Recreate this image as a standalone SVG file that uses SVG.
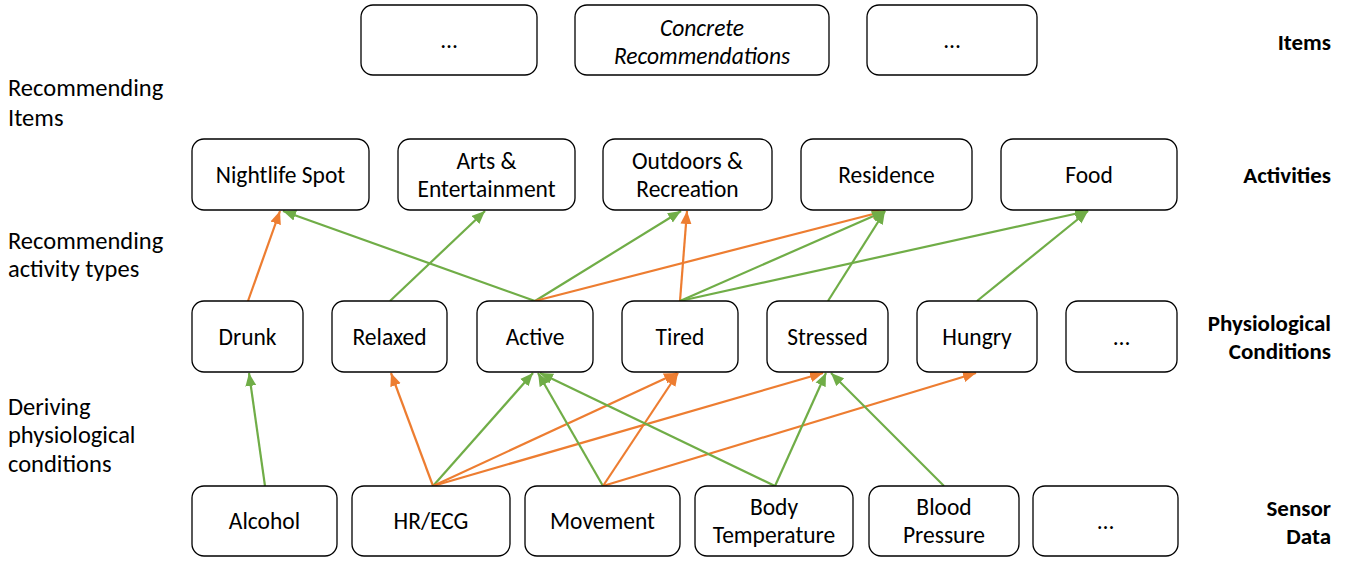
<svg xmlns="http://www.w3.org/2000/svg" width="1349" height="561" viewBox="0 0 1349 561">
<style>
.box{fill:#fff;stroke:#000;stroke-width:1.3}
.t{font-family:Carlito,Lato,"Open Sans",sans-serif;font-size:23.5px;fill:#000;text-anchor:middle}
.it{font-style:italic}
.lab{font-family:Carlito,Lato,"Open Sans",sans-serif;font-size:24.5px;fill:#000}
.rl{font-family:Carlito,Lato,"Open Sans",sans-serif;font-size:23px;font-weight:bold;fill:#000;text-anchor:end}
.g{stroke:#70AD47;stroke-width:2.2;fill:none;marker-end:url(#ag)}
.o{stroke:#ED7D31;stroke-width:2.2;fill:none;marker-end:url(#ao)}
</style>
<defs>
<marker id="ag" markerUnits="userSpaceOnUse" markerWidth="14" markerHeight="12" refX="13" refY="5.5" orient="auto" viewBox="0 0 14 11"><path d="M0,0 L13,5.5 L0,11 z" fill="#70AD47"/></marker>
<marker id="ao" markerUnits="userSpaceOnUse" markerWidth="14" markerHeight="12" refX="13" refY="5.5" orient="auto" viewBox="0 0 14 11"><path d="M0,0 L13,5.5 L0,11 z" fill="#ED7D31"/></marker>
</defs>
<rect width="1349" height="561" fill="#fff"/>

<g id="side-labels">
<text class="lab" x="8" y="96">Recommending</text>
<text class="lab" x="8" y="126">Items</text>
<text class="lab" x="8" y="249">Recommending</text>
<text class="lab" x="8" y="277">activity types</text>
<text class="lab" x="8" y="415">Deriving</text>
<text class="lab" x="8" y="443">physiological</text>
<text class="lab" x="8" y="472">conditions</text>
<text class="rl" x="1331" y="50">Items</text>
<text class="rl" x="1331" y="183">Activities</text>
<text class="rl" x="1331" y="331">Physiological</text>
<text class="rl" x="1331" y="359">Conditions</text>
<text class="rl" x="1331" y="516">Sensor</text>
<text class="rl" x="1331" y="544">Data</text>
</g>

<g id="connectors">
<path class="o" d="M248,301 L280,211"/>
<path class="g" d="M535,301 L283,211"/>
<path class="g" d="M390,301 L485,211"/>
<path class="g" d="M535,301 L681,211"/>
<path class="o" d="M535,301 L885,211"/>
<path class="o" d="M680,301 L687,211"/>
<path class="g" d="M680,301 L885,211"/>
<path class="g" d="M680,301 L1088,211"/>
<path class="g" d="M828,301 L885,211"/>
<path class="g" d="M977,301 L1088,211"/>
<path class="g" d="M265,486 L249,373"/>
<path class="o" d="M433,486 L391,373"/>
<path class="g" d="M433,486 L533,373"/>
<path class="o" d="M433,486 L677,373"/>
<path class="o" d="M433,486 L823,373"/>
<path class="g" d="M603,486 L538,373"/>
<path class="o" d="M603,486 L678,373"/>
<path class="o" d="M603,486 L976,373"/>
<path class="g" d="M775,486 L540,373"/>
<path class="g" d="M775,486 L826,373"/>
<path class="g" d="M944,486 L831,373"/>
</g>

<g id="item1"><rect class="box" x="361" y="5" width="176" height="70" rx="12"/><text class="t" x="449" y="48">…</text></g>
<g id="item2"><rect class="box" x="575" y="5" width="254" height="70" rx="12"/><text class="t it" x="702" y="36">Concrete</text><text class="t it" x="702" y="64">Recommendations</text></g>
<g id="item3"><rect class="box" x="867" y="5" width="170" height="70" rx="12"/><text class="t" x="952" y="48">…</text></g>

<g id="nightlife"><rect class="box" x="192" y="139" width="177" height="71" rx="12"/><text class="t" x="280.5" y="183">Nightlife Spot</text></g>
<g id="arts"><rect class="box" x="398" y="139" width="177" height="71" rx="12"/><text class="t" x="486.5" y="169">Arts &amp;</text><text class="t" x="486.5" y="197">Entertainment</text></g>
<g id="outdoors"><rect class="box" x="603" y="139" width="169" height="71" rx="12"/><text class="t" x="687.5" y="169">Outdoors &amp;</text><text class="t" x="687.5" y="197">Recreation</text></g>
<g id="residence"><rect class="box" x="801" y="139" width="171" height="71" rx="12"/><text class="t" x="886.5" y="183">Residence</text></g>
<g id="food"><rect class="box" x="1001" y="139" width="176" height="71" rx="12"/><text class="t" x="1089" y="183">Food</text></g>

<g id="drunk"><rect class="box" x="192" y="301" width="111" height="71" rx="12"/><text class="t" x="247.5" y="345">Drunk</text></g>
<g id="relaxed"><rect class="box" x="332" y="301" width="115" height="71" rx="12"/><text class="t" x="389.5" y="345">Relaxed</text></g>
<g id="active"><rect class="box" x="477" y="301" width="116" height="71" rx="12"/><text class="t" x="535" y="345">Active</text></g>
<g id="tired"><rect class="box" x="622" y="301" width="116" height="71" rx="12"/><text class="t" x="680" y="345">Tired</text></g>
<g id="stressed"><rect class="box" x="767" y="301" width="121" height="71" rx="12"/><text class="t" x="827.5" y="345">Stressed</text></g>
<g id="hungry"><rect class="box" x="917" y="301" width="120" height="71" rx="12"/><text class="t" x="977" y="345">Hungry</text></g>
<g id="phys-more"><rect class="box" x="1066" y="301" width="111" height="71" rx="12"/><text class="t" x="1121.5" y="345">…</text></g>

<g id="alcohol"><rect class="box" x="192" y="486" width="145" height="70" rx="12"/><text class="t" x="264.5" y="529">Alcohol</text></g>
<g id="hrecg"><rect class="box" x="352" y="486" width="158" height="70" rx="12"/><text class="t" x="431" y="529">HR/ECG</text></g>
<g id="movement"><rect class="box" x="525" y="486" width="155" height="70" rx="12"/><text class="t" x="602.5" y="529">Movement</text></g>
<g id="bodytemp"><rect class="box" x="695" y="486" width="158" height="70" rx="12"/><text class="t" x="774" y="515">Body</text><text class="t" x="774" y="543">Temperature</text></g>
<g id="bloodpressure"><rect class="box" x="869" y="486" width="150" height="70" rx="12"/><text class="t" x="944" y="515">Blood</text><text class="t" x="944" y="543">Pressure</text></g>
<g id="sensor-more"><rect class="box" x="1033" y="486" width="145" height="70" rx="12"/><text class="t" x="1105.5" y="529">…</text></g>
</svg>
